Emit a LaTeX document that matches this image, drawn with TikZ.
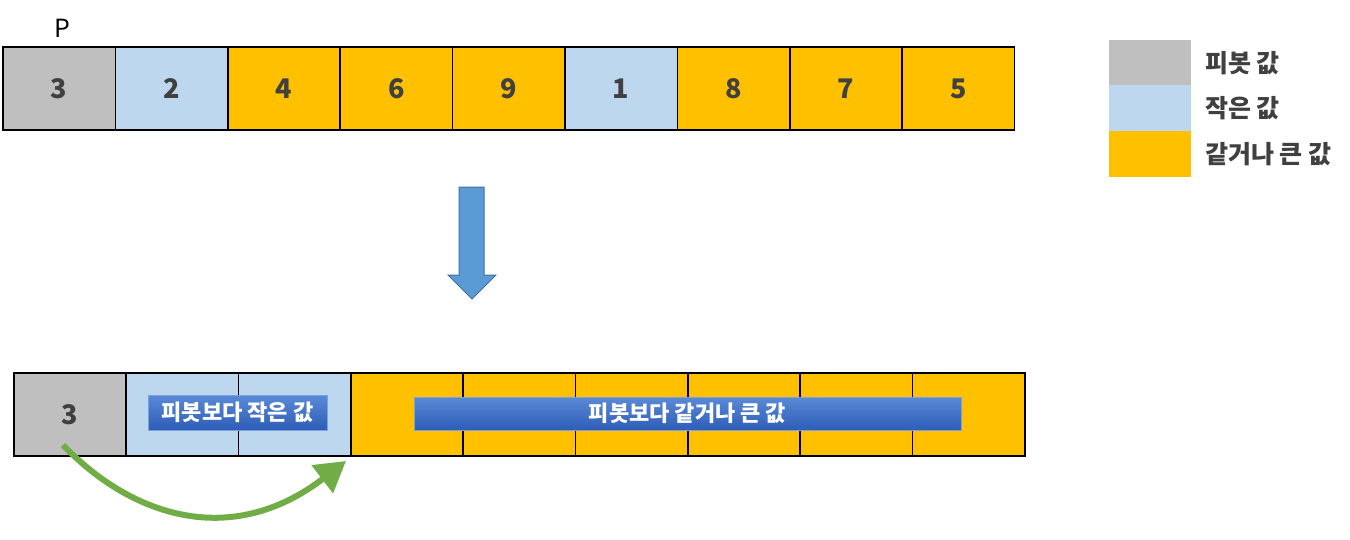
\documentclass[tikz,border=0pt]{standalone}
\usepackage{fontspec}
\setmainfont{Noto Sans CJK KR}
\newfontfamily\kr{Noto Sans CJK KR}
\usetikzlibrary{arrows.meta}
\definecolor{pivgray}{HTML}{BFBFBF}
\definecolor{smallblue}{HTML}{BDD7EE}
\definecolor{bigorange}{HTML}{FFC000}
\definecolor{txtgray}{HTML}{404040}
\definecolor{arrowblue}{HTML}{5B9BD5}
\definecolor{arrowedge}{HTML}{41719C}
\definecolor{arrowgreen}{HTML}{70AD47}
\definecolor{labtop}{HTML}{5A8AD6}
\definecolor{labbot}{HTML}{2E5CB8}
\tikzset{
  cell/.style={draw=black, line width=1.6pt, inner sep=0pt, minimum height=83pt, text=txtgray, font=\kr\bfseries\fontsize{27}{30}\selectfont},
  legbox/.style={inner sep=0pt, minimum width=82pt, minimum height=46pt},
  legtext/.style={anchor=west, inner sep=0pt, text=txtgray, font=\kr\bfseries\fontsize{25}{28}\selectfont},
  labbox/.style={draw=labtop!80!white, line width=0.6pt, top color=labtop, bottom color=labbot, inner sep=0pt, text=white, font=\kr\bfseries\fontsize{22}{24}\selectfont},
  greenarrow/.style={draw=arrowgreen, line width=6pt, -{Triangle[length=30pt,width=34pt]}},
}
\begin{document}
\begin{tikzpicture}[x=1pt,y=-1pt]
\useasboundingbox (0,0) rectangle (1350,539);
% top row
\node[font=\kr\fontsize{25}{28}\selectfont, text=black] (plabel) at (62,28) {P};
\foreach \i/\v/\c in {0/3/pivgray,1/2/smallblue,2/4/bigorange,3/6/bigorange,4/9/bigorange,5/1/smallblue,6/8/bigorange,7/7/bigorange,8/5/bigorange}{
  \node[cell, fill=\c, minimum width=112.4pt] (t\i) at ({3+56.2+112.4*\i},88.5) {\v};
}
% legend
\node[legbox, fill=pivgray] (l1) at (1150,62.5) {};
\node[legbox, fill=smallblue] (l2) at (1150,108) {};
\node[legbox, fill=bigorange] (l3) at (1150,154) {};
\node[legtext] (lt1) at (1205,63) {피봇 값};
\node[legtext] (lt2) at (1205,108) {작은 값};
\node[legtext] (lt3) at (1205,154) {같거나 큰 값};
% block arrow
\draw[fill=arrowblue, draw=arrowedge, line width=1pt]
  (459,187) -- (484,187) -- (484,275) -- (496,275) -- (472,299) -- (448,275) -- (459,275) -- cycle;
% bottom row
\node[cell, fill=pivgray, minimum width=112.3pt] (b0) at (70,414.5) {3};
\foreach \i in {1,2}{
  \node[cell, fill=smallblue, minimum width=112.3pt] (b\i) at ({14+56.15+112.3*\i},414.5) {};
}
\foreach \i in {3,...,8}{
  \node[cell, fill=bigorange, minimum width=112.3pt] (b\i) at ({14+56.15+112.3*\i},414.5) {};
}
\node[labbox, minimum width=179pt, minimum height=35pt] (lab1) at (237.5,412.5) {피봇보다 작은 값};
\node[labbox, minimum width=547pt, minimum height=33pt] (lab2) at (687.5,413.5) {피봇보다 같거나 큰 값};
% green arrow
\coordinate (gs) at (63,445);
\coordinate (ge) at (346,461);
\draw[greenarrow] (gs) .. controls (130,515) and (230,550) .. (ge);
\end{tikzpicture}
\end{document}
